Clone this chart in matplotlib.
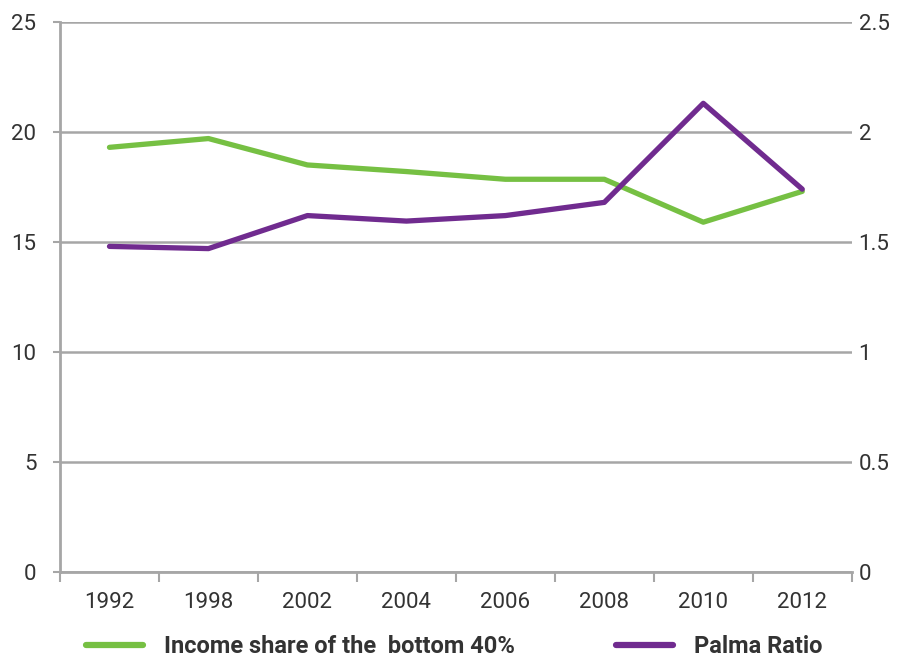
import matplotlib
matplotlib.use("Agg")
import matplotlib.pyplot as plt
import numpy as np

years = ['1992', '1998', '2002', '2004', '2006', '2008', '2010', '2012']
income_share = [19.3, 19.7, 18.5, 18.2, 17.85, 17.85, 15.9, 17.3]
palma_ratio = [1.48, 1.47, 1.62, 1.595, 1.62, 1.68, 2.13, 1.74]

plt.rcParams['font.family'] = ['Roboto', 'DejaVu Sans']

green = '#76c043'
purple = '#702b8f'
grid_col = '#a6a6a6'
txt_col = '#333333'

fig = plt.figure(figsize=(9.09, 6.63), dpi=100)
ax = fig.add_axes([0.066, 0.137, 0.871, 0.83])
ax2 = ax.twinx()

x = np.arange(len(years))
ax.plot(x, income_share, color=green, lw=3.8, solid_capstyle='round', zorder=3)
ax2.plot(x, palma_ratio, color=purple, lw=3.8, solid_capstyle='round', zorder=3)

ax.set_xlim(-0.5, len(years) - 0.5)
ax.set_ylim(0, 25)
ax2.set_ylim(0, 2.5)
ax.set_yticks([0, 5, 10, 15, 20, 25])
ax2.set_yticks([0, 0.5, 1, 1.5, 2, 2.5])
ax2.set_yticklabels(['0', '0.5', '1', '1.5', '2', '2.5'])

ax.yaxis.grid(True, color=grid_col, lw=1.8)
ax.set_axisbelow(True)

ax.set_xticks(np.arange(-0.5, len(years), 1))
ax.set_xticklabels([])
ax.set_xticks(x, minor=True)
ax.set_xticklabels(years, minor=True)
ax.tick_params(axis='x', which='major', length=7, width=1.5, color=grid_col, direction='out')
ax.tick_params(axis='x', which='minor', length=0, pad=14, labelsize=16, labelcolor=txt_col)
ax.tick_params(axis='y', length=5, width=1.5, color=grid_col, labelsize=16, labelcolor=txt_col, pad=12)
ax2.tick_params(axis='y', length=0, labelsize=16, labelcolor=txt_col, pad=5)

for a in (ax, ax2):
    for s in ['top', 'right']:
        a.spines[s].set_visible(False)
ax2.spines['left'].set_visible(False)
ax2.spines['bottom'].set_visible(False)
ax.spines['left'].set_color(grid_col)
ax.spines['left'].set_linewidth(2)
ax.spines['bottom'].set_color(grid_col)
ax.spines['bottom'].set_linewidth(2)

h1, = ax.plot([], [], color=green, lw=4.5, solid_capstyle='round')
h2, = ax.plot([], [], color=purple, lw=4.5, solid_capstyle='round')
fig.legend([h1, h2], ['Income share of the  bottom 40%', 'Palma Ratio'],
           loc='lower center', bbox_to_anchor=(0.5, -0.025), ncol=2, frameon=False,
           prop={'weight': 'bold', 'size': 17}, labelcolor=txt_col,
           handlelength=2.4, columnspacing=4.3, handletextpad=0.9)

fig.savefig('out.png', dpi=100)
